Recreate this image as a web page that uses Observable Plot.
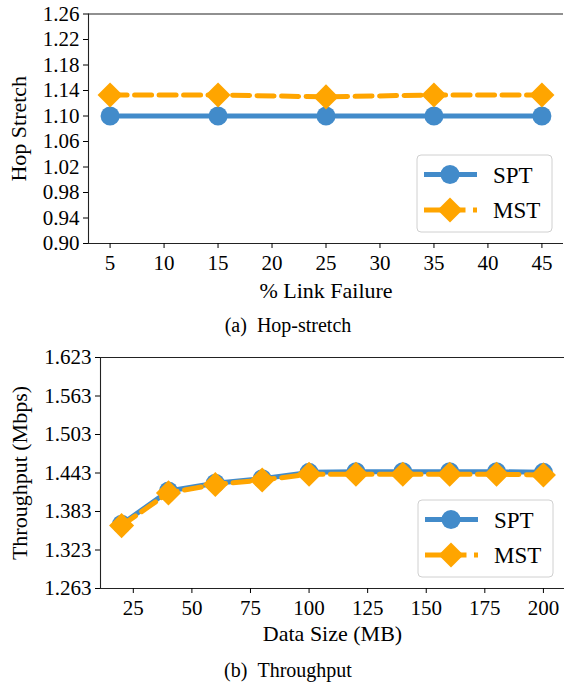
<!DOCTYPE html>
<html>
<head>
<meta charset="utf-8">
<script src="https://cdn.jsdelivr.net/npm/d3@7"></script>
<script src="https://cdn.jsdelivr.net/npm/@observablehq/plot@0.6"></script>
<style>
  html, body { margin: 0; padding: 0; background: #fff; overflow: hidden; font-family: "Liberation Serif", serif; }
  #root { position: relative; width: 564px; height: 683px; font-family: "Liberation Serif", serif; }
  .panel { position: absolute; left: 0; }
  .caption { position: absolute; left: 12px; width: 552px; text-align: center; font-size: 20px; line-height: 20px; color: #000; }
</style>
</head>
<body>
<div id="root">
  <div class="panel" id="top" style="top:0px"></div>
  <div class="caption" style="top:315px">(a)&nbsp;&nbsp;Hop-stretch</div>
  <div class="panel" id="bottom" style="top:340px"></div>
  <div class="caption" style="top:660px">(b)&nbsp;&nbsp;Throughput</div>
</div>
<script>
// ---- Data: (a) Hop-stretch ----
const linkFailure = [5, 15, 25, 35, 45];
const hopSPT = [1.100, 1.100, 1.100, 1.100, 1.100];
const hopMST = [1.133, 1.133, 1.130, 1.133, 1.133];
const hopXTicks = [5, 10, 15, 20, 25, 30, 35, 40, 45];
const hopYTicks = [0.90, 0.94, 0.98, 1.02, 1.06, 1.10, 1.14, 1.18, 1.22, 1.26];

// ---- Data: (b) Throughput ----
const dataSize = [20, 40, 60, 80, 100, 120, 140, 160, 180, 200];
const thrSPT = [1.363, 1.415, 1.427, 1.434, 1.444, 1.445, 1.445, 1.445, 1.445, 1.444];
const thrMST = [1.361, 1.412, 1.425, 1.432, 1.441, 1.441, 1.441, 1.441, 1.441, 1.440];
const thrXTicks = [25, 50, 75, 100, 125, 150, 175, 200];
const thrYTicks = [1.263, 1.323, 1.383, 1.443, 1.503, 1.563, 1.623];

const seriesNames = ["SPT", "MST"];
const BLUE = "#428bca";
const ORANGE = "#ffa500";
const FONT = "Liberation Serif";

function rows(xs, ys) { return xs.map((x, i) => ({x, y: ys[i]})); }

function addLegend(svgNode, left, top) {
  const g = d3.select(svgNode).append("g").attr("transform", `translate(${left},${top})`);
  g.append("rect").attr("x", 0).attr("y", 0).attr("width", 135).attr("height", 77)
    .attr("rx", 4).attr("fill", "rgba(255,255,255,0.8)").attr("stroke", "#d0d0d0").attr("stroke-width", 1);
  const rowY = [19.5, 55];
  seriesNames.forEach((name, i) => {
    const y = rowY[i];
    const col = i === 0 ? BLUE : ORANGE;
    const ln = g.append("line").attr("x1", 7).attr("x2", 60).attr("y1", y).attr("y2", y)
      .attr("stroke", col).attr("stroke-width", 5);
    if (i === 1) ln.attr("stroke-dasharray", "17,7.5");
    if (i === 0) {
      g.append("circle").attr("cx", 33).attr("cy", y).attr("r", 9.5).attr("fill", col);
    } else {
      const h = 12.5;
      g.append("path").attr("d", `M33,${y - h}L${33 + h},${y}L33,${y + h}L${33 - h},${y}Z`).attr("fill", col);
    }
    g.append("text").attr("x", 76).attr("y", y).attr("dy", "0.35em").attr("text-anchor", "start")
      .attr("font-family", FONT).attr("font-size", 23).attr("fill", "#000").text(name);
  });
}

function panel({xs, spt, mst, xDomain, yDomain, xTicks, yTicks, yFmt,
                width, height, mL, mR, mT, mB, xLabel, yLabel, yLabelDx, xLabelDy, legendAt}) {
  const a = rows(xs, spt), b = rows(xs, mst);
  const svg = Plot.plot({
    width, height, marginLeft: mL, marginRight: mR, marginTop: mT, marginBottom: mB,
    style: {fontFamily: FONT, fontSize: "21px"},
    x: {domain: xDomain},
    y: {domain: yDomain},
    marks: [
      Plot.ruleX([xDomain[0]], {stroke: "#222", strokeWidth: 1.1}),
      Plot.ruleY([yDomain[0], yDomain[1]], {stroke: "#222", strokeWidth: 1.1}),
      Plot.axisX({ticks: xTicks, tickSize: 5, tickPadding: 7, label: null, tickFormat: d => String(d), fontSize: 21, fill: "#000", stroke: "#000"}),
      Plot.axisY({ticks: yTicks, tickSize: 5, tickPadding: 4, label: null, tickFormat: yFmt, fontSize: 21, fill: "#000", stroke: "#000"}),
      Plot.line(a, {x: "x", y: "y", stroke: BLUE, strokeWidth: 5}),
      Plot.dot(a, {x: "x", y: "y", fill: BLUE, r: 9.5, symbol: "circle"}),
      Plot.line(b, {x: "x", y: "y", stroke: ORANGE, strokeWidth: 5, strokeDasharray: "17,7.5"}),
      Plot.dot(b, {x: "x", y: "y", fill: ORANGE, r: 11.3, symbol: "diamond2"}),
      Plot.text([xLabel], {text: d => d, frameAnchor: "bottom", lineAnchor: "middle", textAnchor: "middle", dy: xLabelDy, fontSize: 22, fill: "#000"}),
      Plot.text([yLabel], {text: d => d, frameAnchor: "left", lineAnchor: "middle", textAnchor: "middle", rotate: -90, dx: yLabelDx, fontSize: 22, fill: "#000"})
    ]
  });
  addLegend(svg, legendAt[0], legendAt[1]);
  return svg;
}

function render() {
  const topEl = document.getElementById("top");
  const botEl = document.getElementById("bottom");
  topEl.replaceChildren(panel({
    xs: linkFailure, spt: hopSPT, mst: hopMST,
    xDomain: [3, 47], yDomain: [0.90, 1.26], xTicks: hopXTicks, yTicks: hopYTicks, yFmt: d3.format(".2f"),
    width: 564, height: 305, mL: 88, mR: 1, mT: 13.5, mB: 62,
    xLabel: "% Link Failure", yLabel: "Hop Stretch", yLabelDx: -69.5, xLabelDy: 47,
    legendAt: [417, 155]
  }));
  botEl.replaceChildren(panel({
    xs: dataSize, spt: thrSPT, mst: thrMST,
    xDomain: [11, 209], yDomain: [1.263, 1.623], xTicks: thrXTicks, yTicks: thrYTicks, yFmt: d3.format(".3f"),
    width: 564, height: 312, mL: 100, mR: 0, mT: 17, mB: 64,
    xLabel: "Data Size (MB)", yLabel: "Throughput (Mbps)", yLabelDx: -81, xLabelDy: 45,
    legendAt: [418, 160]
  }));
}

render();
if (document.fonts && document.fonts.load) {
  document.fonts.load('21px "Liberation Serif"').then(render).catch(() => {});
  document.fonts.ready.then(render).catch(() => {});
}
</script>
</body>
</html>
